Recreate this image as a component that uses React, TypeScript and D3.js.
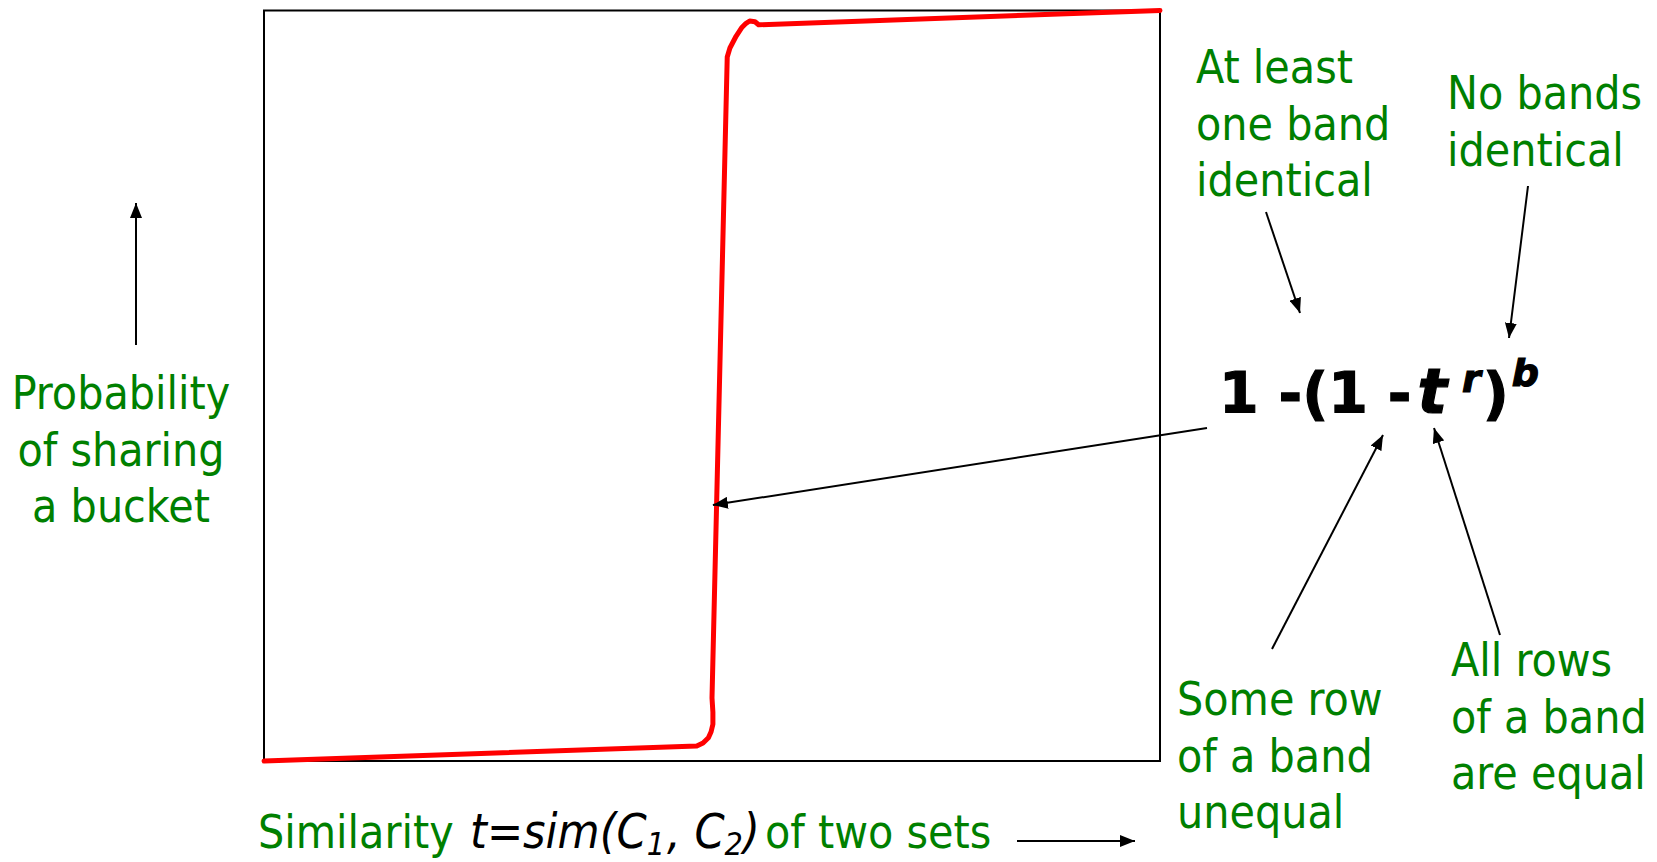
import React from "react";
import * as d3 from "d3";

// hand-drawn S-curve: similarity t vs probability of sharing a bucket
const similarity = [
  0, 0.483, 0.49, 0.496, 0.499, 0.501, 0.501, 0.5, 0.517, 0.52, 0.527, 0.533, 0.538, 0.542,
  0.548, 0.552, 1,
];
const probability = [
  0, 0.02, 0.024, 0.031, 0.039, 0.049, 0.065, 0.084, 0.938, 0.95, 0.966, 0.977, 0.983, 0.986,
  0.985, 0.981, 1.0,
];

// point on the curve the formula arrow is aimed at
const formulaTarget = [0.501, 0.341];

const yLabelLines = ["Probability", "of sharing", "a bucket"];
const atLeastLines = ["At least", "one band", "identical"];
const noBandsLines = ["No bands", "identical"];
const someRowLines = ["Some row", "of a band", "unequal"];
const allRowsLines = ["All rows", "of a band", "are equal"];

const GREEN = "#008000";
const FONT = "'DejaVu Sans Condensed', 'DejaVu Sans', sans-serif";

const W = 1657;
const H = 862;
const frame = { left: 264, right: 1160, top: 10.5, bottom: 761 };

const App = () => {
  const svgRef = React.useRef<SVGSVGElement>(null);

  React.useEffect(() => {
    const x = d3.scaleLinear().domain([0, 1]).range([frame.left, frame.right]);
    const y = d3.scaleLinear().domain([0, 1]).range([frame.bottom, frame.top]);

    const svgEl = d3.select(svgRef.current);
    svgEl.selectAll("*").remove();

    svgEl
      .append("defs")
      .append("marker")
      .attr("id", "head")
      .attr("markerUnits", "userSpaceOnUse")
      .attr("markerWidth", 16)
      .attr("markerHeight", 12)
      .attr("refX", 15)
      .attr("refY", 6)
      .attr("orient", "auto")
      .append("path")
      .attr("d", "M0,0 L15,6 L0,12 z")
      .attr("fill", "black");

    // plot frame
    svgEl
      .append("rect")
      .attr("x", x(0))
      .attr("y", y(1))
      .attr("width", x(1) - x(0))
      .attr("height", y(0) - y(1))
      .attr("fill", "none")
      .attr("stroke", "black")
      .attr("stroke-width", 2);

    const pts = similarity.map((t, i) => [t, probability[i]] as [number, number]);
    const line = d3
      .line<[number, number]>()
      .x((d) => x(d[0]))
      .y((d) => y(d[1]));

    svgEl
      .append("path")
      .datum(pts)
      .attr("d", line)
      .attr("fill", "none")
      .attr("stroke", "#ff0000")
      .attr("stroke-width", 5)
      .attr("stroke-linejoin", "round")
      .attr("stroke-linecap", "round");

    // arrows
    const arrows = [
      [136, 345, 136, 203],
      [1266, 212, 1300, 313],
      [1528, 186, 1509, 338],
      [1207, 428, x(formulaTarget[0]), y(formulaTarget[1])],
      [1272, 649, 1383, 435],
      [1500, 635, 1434, 428],
      [1017, 841, 1135, 841],
    ];
    svgEl
      .selectAll(".arrow")
      .data(arrows)
      .enter()
      .append("line")
      .attr("x1", (d) => d[0])
      .attr("y1", (d) => d[1])
      .attr("x2", (d) => d[2])
      .attr("y2", (d) => d[3])
      .attr("stroke", "black")
      .attr("stroke-width", 2)
      .attr("marker-end", "url(#head)");

    // green multi-line labels
    const block = (lines: string[], x0: number, y0: number, anchor = "start") => {
      svgEl
        .append("g")
        .selectAll("text")
        .data(lines)
        .enter()
        .append("text")
        .attr("x", x0)
        .attr("y", (d, i) => y0 + i * 56.5)
        .attr("text-anchor", anchor)
        .attr("font-family", FONT)
        .attr("font-size", 46)
        .attr("fill", GREEN)
        .text((d) => d);
    };
    block(yLabelLines, 121, 409, "middle");
    block(atLeastLines, 1196, 83);
    block(noBandsLines, 1447, 109);
    block(someRowLines, 1177, 715);
    block(allRowsLines, 1451, 676);

    // formula
    const f = svgEl
      .append("text")
      .attr("x", 1219)
      .attr("y", 413)
      .attr("font-family", "'DejaVu Sans', sans-serif")
      .attr("font-weight", "bold")
      .attr("font-size", 57)
      .attr("fill", "black")
      .attr("stroke", "black")
      .attr("stroke-width", 1.2);
    f.append("tspan").text("1 -(1 -");
    f.append("tspan").attr("font-style", "italic").attr("font-size", 62).attr("dx", 6).text("t");
    f.append("tspan")
      .attr("font-style", "italic")
      .attr("font-size", 38)
      .attr("dx", 15)
      .attr("dy", -21)
      .text("r");
    f.append("tspan").attr("dx", 2).attr("dy", 21).text(")");
    f.append("tspan")
      .attr("font-style", "italic")
      .attr("font-size", 38)
      .attr("dx", 3)
      .attr("dy", -27)
      .text("b");

    // x axis label
    const xl = svgEl
      .append("text")
      .attr("y", 848)
      .attr("font-family", FONT)
      .attr("font-size", 46);
    xl.append("tspan").attr("x", 258).attr("fill", GREEN).text("Similarity");
    const it = (s: string) =>
      xl
        .append("tspan")
        .attr("font-style", "italic")
        .attr("font-size", 48)
        .attr("fill", "black")
        .text(s);
    it("t=sim(C").attr("x", 470);
    it("1").attr("font-size", 32).attr("dy", 7);
    it(", C").attr("dy", -7).attr("dx", 2);
    it("2").attr("font-size", 32).attr("dy", 7);
    it(")").attr("dy", -7);
    xl.append("tspan").attr("x", 765).attr("fill", GREEN).text("of two sets");
  }, []);

  return (
    <svg
      ref={svgRef}
      width={W}
      height={H}
      style={{ position: "absolute", left: 0, top: 0, background: "white" }}
    />
  );
};

export default App;
